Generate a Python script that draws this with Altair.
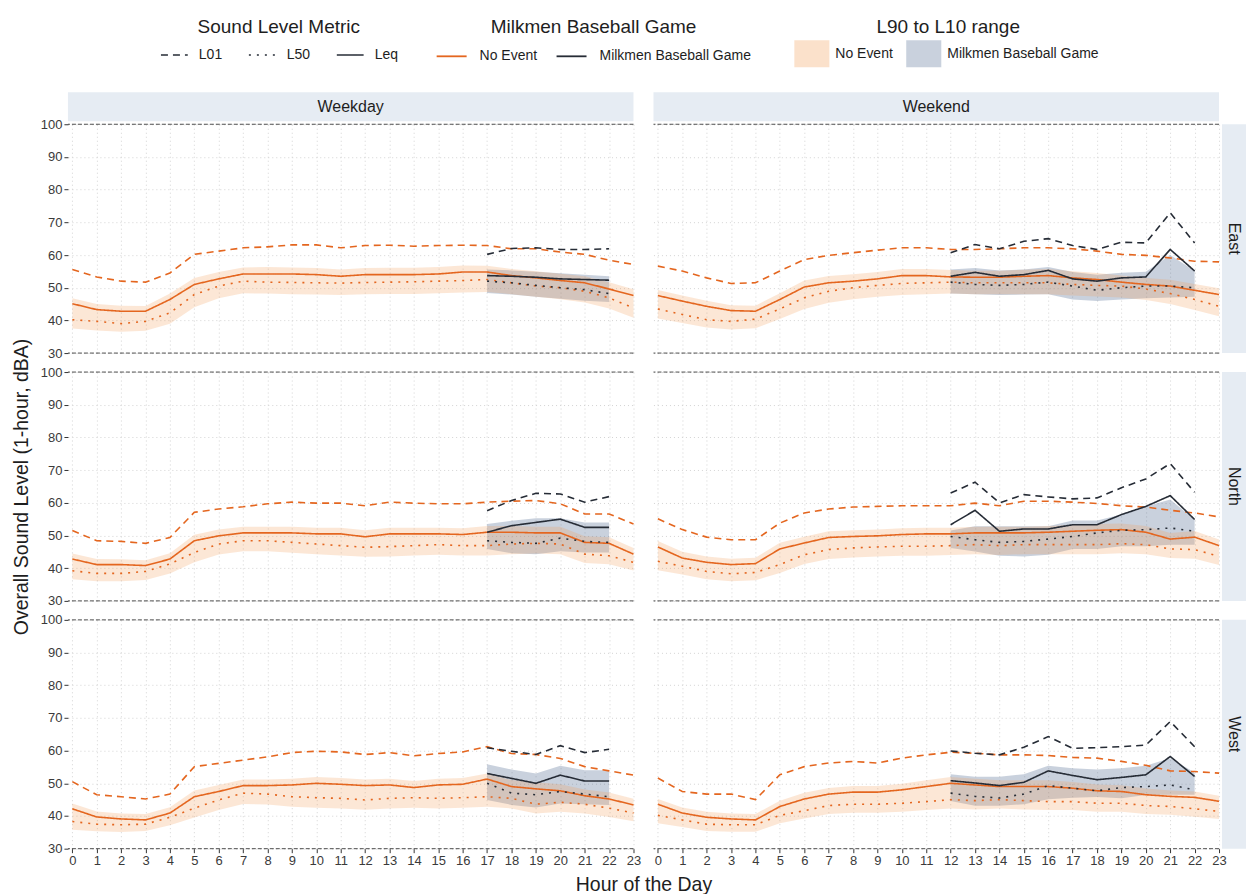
import altair as alt
import pandas as pd

# ---------------------------------------------------------------------------
# Categories and axis values
# ---------------------------------------------------------------------------
HOURS = list(range(24))
LOCATIONS = ["East", "North", "West"]
DAYS = ["Weekday", "Weekend"]
EVENTS = ["No Event", "Milkmen Baseball Game"]
BANDS = ["No Event range", "Milkmen Baseball Game range"]
METRICS = ["L01", "L50", "Leq"]
Y_TICKS = [30, 40, 50, 60, 70, 80, 90, 100]
LIMIT_LEVELS = [30, 100]
GAME_HOURS = {"Weekday": list(range(17, 23)), "Weekend": list(range(12, 23))}

# ---------------------------------------------------------------------------
# Hourly levels without an event (dBA), hours 0-23
# ---------------------------------------------------------------------------
east_weekday_leq = [45.1, 43.3, 42.8, 42.8, 46.4, 51.0, 52.7, 54.2, 54.2, 54.2, 54.0, 53.5,
                    54.0, 54.0, 54.0, 54.2, 54.8, 54.8, 53.7, 53.0, 52.2, 51.5, 49.6, 47.6]
east_weekday_l01 = [55.6, 53.3, 52.0, 51.7, 54.5, 60.2, 61.2, 62.2, 62.5, 63.1, 63.1, 62.2,
                    62.9, 63.0, 62.7, 62.9, 63.0, 62.9, 61.9, 61.9, 60.9, 60.2, 58.4, 57.1]
east_weekday_l50 = [40.2, 39.7, 39.0, 39.7, 42.3, 47.9, 50.5, 52.0, 51.7, 51.6, 51.5, 51.4,
                    51.6, 51.7, 51.8, 52.0, 52.2, 52.5, 51.5, 50.5, 50.0, 48.9, 46.9, 43.8]
east_weekday_l10 = [46.8, 45.0, 44.5, 44.4, 48.2, 53.0, 54.8, 56.2, 56.3, 56.2, 56.0, 55.6,
                    56.0, 56.1, 56.1, 56.3, 56.8, 56.7, 55.7, 55.0, 54.3, 53.5, 51.7, 49.5]
east_weekday_l90 = [37.5, 36.9, 36.5, 36.8, 39.0, 44.0, 46.8, 48.3, 48.2, 48.0, 47.9, 47.8,
                    48.0, 48.1, 48.1, 48.3, 48.5, 48.7, 48.0, 47.2, 46.5, 45.5, 43.6, 40.8]

east_weekend_leq = [47.6, 45.9, 44.3, 43.0, 42.8, 46.4, 50.2, 51.5, 52.0, 52.7, 53.7, 53.7,
                    53.3, 53.2, 53.2, 53.5, 53.7, 53.0, 52.5, 51.7, 51.0, 50.5, 49.2, 47.9]
east_weekend_l01 = [56.6, 55.1, 53.0, 51.3, 51.5, 55.1, 58.6, 59.9, 60.7, 61.5, 62.2, 62.2,
                    61.7, 61.7, 61.9, 62.2, 62.2, 61.9, 61.2, 60.2, 59.9, 59.1, 58.1, 57.9]
east_weekend_l50 = [43.5, 41.8, 40.2, 39.7, 40.4, 43.5, 46.9, 48.9, 50.0, 50.7, 51.3, 51.5,
                    51.7, 51.5, 51.5, 51.5, 51.5, 51.0, 50.7, 50.5, 49.6, 48.2, 46.4, 44.3]
east_weekend_l10 = [49.3, 47.6, 46.0, 44.6, 44.5, 48.3, 52.2, 53.6, 54.1, 54.8, 55.7, 55.7,
                    55.4, 55.2, 55.2, 55.5, 55.7, 55.0, 54.5, 53.7, 53.0, 52.4, 51.1, 49.8]
east_weekend_l90 = [40.6, 39.2, 37.8, 37.2, 37.6, 40.4, 43.5, 45.4, 46.5, 47.2, 47.8, 48.0,
                    48.2, 48.0, 48.0, 48.0, 48.0, 47.6, 47.3, 47.0, 46.2, 45.0, 43.2, 41.3]

north_weekday_leq = [42.8, 41.1, 41.1, 40.8, 42.8, 48.4, 49.9, 50.8, 50.8, 50.8, 50.5, 50.5,
                     49.6, 50.5, 50.5, 50.5, 50.3, 51.0, 51.0, 50.8, 50.8, 47.9, 47.6, 44.3]
north_weekday_l01 = [51.5, 48.4, 48.2, 47.6, 49.4, 57.1, 58.1, 58.8, 59.7, 60.2, 59.9, 59.9,
                     59.1, 60.2, 59.9, 59.7, 59.7, 60.2, 60.5, 60.7, 59.7, 56.6, 56.6, 53.5]
north_weekday_l50 = [39.2, 38.4, 38.4, 39.0, 41.3, 44.8, 47.4, 48.4, 48.4, 47.9, 47.4, 46.9,
                     46.4, 46.6, 46.9, 47.2, 46.9, 46.9, 47.4, 47.6, 47.4, 44.3, 43.8, 41.8]
north_weekday_l10 = [44.5, 42.8, 42.7, 42.4, 44.6, 50.2, 51.8, 52.7, 52.7, 52.7, 52.4, 52.4,
                     51.6, 52.4, 52.4, 52.4, 52.2, 52.9, 52.9, 52.7, 52.7, 49.8, 49.5, 46.2]
north_weekday_l90 = [36.6, 36.0, 36.0, 36.4, 38.4, 41.8, 44.2, 45.2, 45.2, 44.7, 44.3, 43.9,
                     43.5, 43.6, 43.9, 44.1, 43.9, 43.9, 44.3, 44.5, 44.3, 41.6, 41.2, 39.3]

north_weekend_leq = [46.5, 43.1, 41.8, 41.1, 41.4, 45.9, 47.7, 49.4, 49.7, 49.9, 50.3, 50.5,
                     50.5, 50.8, 50.8, 50.8, 51.0, 51.3, 51.6, 51.8, 51.0, 48.9, 49.5, 46.9]
north_weekend_l01 = [55.1, 51.8, 49.5, 48.7, 48.7, 53.8, 56.9, 58.1, 58.7, 58.9, 59.1, 59.1,
                     59.1, 59.9, 59.1, 60.5, 60.5, 60.2, 59.8, 59.1, 58.7, 57.7, 56.9, 55.7]
north_weekend_l50 = [42.1, 40.6, 39.0, 38.3, 38.7, 41.1, 44.1, 45.7, 46.2, 46.5, 46.7, 46.7,
                     46.9, 47.2, 46.9, 47.2, 47.2, 47.2, 47.2, 47.5, 47.2, 45.9, 45.7, 43.6]
north_weekend_l10 = [48.3, 45.0, 43.6, 42.9, 43.2, 47.8, 49.6, 51.3, 51.6, 51.8, 52.2, 52.4,
                     52.4, 52.7, 52.7, 52.7, 52.9, 53.2, 53.5, 53.7, 52.9, 50.8, 51.4, 48.8]
north_weekend_l90 = [39.4, 38.1, 36.6, 36.0, 36.3, 38.5, 41.3, 42.8, 43.3, 43.6, 43.8, 43.8,
                     44.0, 44.3, 44.0, 44.3, 44.3, 44.3, 44.3, 44.6, 44.3, 43.1, 42.9, 41.0]

west_weekday_leq = [42.2, 39.7, 39.1, 38.8, 40.9, 45.9, 47.5, 49.3, 49.3, 49.5, 50.0, 49.7,
                    49.3, 49.5, 48.7, 49.5, 49.7, 51.3, 49.0, 48.3, 47.7, 46.2, 45.2, 43.4]
west_weekday_l01 = [50.5, 46.5, 45.9, 45.2, 46.7, 55.1, 56.1, 57.1, 58.1, 59.4, 59.8, 59.6,
                    58.8, 59.4, 58.4, 59.1, 59.6, 61.2, 59.1, 58.8, 57.6, 55.1, 53.8, 52.5]
west_weekday_l50 = [38.3, 37.5, 37.3, 37.5, 39.6, 42.4, 44.9, 47.0, 46.7, 45.9, 45.6, 45.4,
                    44.9, 45.4, 45.6, 45.4, 45.6, 45.9, 45.4, 43.6, 44.2, 43.6, 42.4, 40.9]
west_weekday_l10 = [43.8, 41.4, 40.8, 40.6, 42.7, 47.8, 49.5, 51.2, 51.2, 51.4, 51.9, 51.6,
                    51.2, 51.4, 50.7, 51.4, 51.6, 53.0, 51.0, 50.3, 49.7, 48.1, 47.2, 45.3]
west_weekday_l90 = [35.8, 35.3, 35.1, 35.4, 37.2, 39.5, 41.8, 43.7, 43.5, 42.8, 42.5, 42.3,
                    41.9, 42.3, 42.5, 42.3, 42.5, 42.8, 42.3, 40.8, 41.3, 40.8, 39.7, 38.4]

west_weekend_leq = [43.6, 40.9, 39.6, 39.1, 38.8, 42.9, 45.2, 46.7, 47.3, 47.3, 48.0, 49.0,
                    50.0, 49.5, 49.0, 49.0, 49.0, 48.5, 47.7, 47.5, 46.5, 46.0, 45.7, 44.5]
west_weekend_l01 = [51.6, 47.5, 46.7, 46.7, 45.0, 52.6, 55.1, 56.2, 56.7, 56.2, 57.7, 58.7,
                    59.5, 59.2, 58.7, 58.7, 58.5, 57.9, 57.7, 56.7, 55.5, 53.8, 53.6, 53.1]
west_weekend_l50 = [40.2, 38.8, 37.5, 37.3, 37.3, 40.2, 41.6, 43.2, 43.6, 43.6, 43.9, 44.4,
                    45.0, 44.7, 45.0, 44.7, 44.4, 44.4, 43.9, 43.9, 43.2, 42.9, 42.2, 41.4]
west_weekend_l10 = [45.2, 42.6, 41.3, 40.8, 40.6, 44.7, 47.1, 48.6, 49.2, 49.2, 49.9, 50.9,
                    51.9, 51.4, 50.9, 50.9, 50.9, 50.4, 49.6, 49.4, 48.4, 47.8, 47.5, 46.2]
west_weekend_l90 = [37.8, 36.6, 35.4, 35.2, 35.2, 37.8, 39.2, 40.6, 41.0, 41.0, 41.3, 41.8,
                    42.3, 42.0, 42.3, 42.0, 41.8, 41.8, 41.3, 41.3, 40.6, 40.4, 39.8, 39.1]

# ---------------------------------------------------------------------------
# Hourly levels during Milkmen games (weekday 17-22, weekend 12-22)
# ---------------------------------------------------------------------------
east_weekday_game_leq = [53.7, 53.5, 53.2, 52.7, 52.5, 52.3]
east_weekday_game_l01 = [60.2, 62.0, 62.2, 61.7, 61.7, 61.9]
east_weekday_game_l50 = [52.0, 51.5, 50.7, 50.0, 49.4, 48.2]
east_weekday_game_l10 = [55.6, 55.3, 54.9, 54.4, 54.0, 53.5]
east_weekday_game_l90 = [48.4, 47.9, 47.2, 46.6, 46.0, 45.6]

east_weekend_game_leq = [53.5, 54.7, 53.5, 54.0, 55.3, 52.7, 52.0, 53.0, 53.3, 61.7, 55.1]
east_weekend_game_l01 = [60.7, 63.2, 61.9, 64.2, 65.0, 62.9, 61.7, 63.9, 63.7, 72.9, 63.7]
east_weekend_game_l50 = [51.7, 51.0, 50.7, 51.0, 51.7, 50.5, 49.2, 50.0, 50.5, 50.5, 50.0]
east_weekend_game_l10 = [55.6, 56.0, 55.3, 55.6, 56.3, 54.8, 54.0, 54.6, 54.9, 60.0, 55.1]
east_weekend_game_l90 = [48.2, 48.0, 47.8, 47.9, 48.0, 46.4, 45.9, 46.4, 46.8, 47.0, 47.2]

north_weekday_game_leq = [51.0, 53.0, 54.0, 55.0, 52.5, 52.5]
north_weekday_game_l01 = [57.6, 60.7, 62.9, 62.7, 60.2, 61.9]
north_weekday_game_l50 = [48.4, 47.9, 47.6, 49.2, 48.2, 47.9]
north_weekday_game_l10 = [53.5, 54.5, 55.3, 55.3, 54.0, 54.0]
north_weekday_game_l90 = [45.9, 44.6, 44.3, 45.2, 44.8, 44.8]

north_weekend_game_leq = [53.3, 57.7, 51.3, 52.0, 52.0, 53.3, 53.3, 56.4, 58.9, 62.2, 54.9]
north_weekend_game_l01 = [63.0, 66.3, 60.0, 62.5, 61.8, 61.2, 61.5, 64.6, 67.3, 72.0, 63.2]
north_weekend_game_l50 = [49.7, 48.7, 47.9, 48.2, 48.9, 49.7, 50.8, 51.6, 51.8, 52.3, 51.3]
north_weekend_game_l10 = [51.5, 52.8, 52.8, 52.8, 52.8, 54.6, 54.6, 56.4, 58.9, 61.0, 54.9]
north_weekend_game_l90 = [46.2, 45.1, 43.8, 43.6, 44.1, 45.9, 45.9, 46.7, 46.7, 47.2, 47.2]

west_weekday_game_leq = [53.0, 51.5, 50.0, 52.5, 50.7, 50.7]
west_weekday_game_l01 = [60.9, 59.8, 58.8, 61.5, 59.4, 60.4]
west_weekday_game_l50 = [50.0, 47.0, 46.5, 47.5, 46.7, 45.9]
west_weekday_game_l10 = [55.8, 54.2, 53.0, 55.4, 54.0, 54.0]
west_weekday_game_l90 = [44.9, 43.4, 42.6, 43.8, 43.6, 43.4]

west_weekend_game_leq = [50.8, 50.1, 49.3, 50.3, 53.8, 52.4, 51.1, 51.8, 52.6, 58.2, 52.1]
west_weekend_game_l01 = [59.9, 59.2, 58.7, 61.0, 64.3, 60.7, 60.9, 61.2, 61.7, 68.9, 61.2]
west_weekend_game_l50 = [47.0, 46.0, 45.5, 46.7, 49.3, 48.5, 47.7, 48.7, 49.0, 49.5, 48.0]
west_weekend_game_l10 = [52.8, 52.0, 52.0, 52.8, 55.4, 54.6, 54.2, 54.6, 55.4, 57.7, 53.3]
west_weekend_game_l90 = [44.6, 43.1, 43.1, 43.6, 45.1, 45.6, 45.8, 45.4, 46.4, 46.5, 46.5]

# ---------------------------------------------------------------------------
# Assemble long tables
# ---------------------------------------------------------------------------
series = {
    ("East", "Weekday"): {
        "No Event": (east_weekday_l01, east_weekday_l50, east_weekday_leq, east_weekday_l10, east_weekday_l90),
        "Milkmen Baseball Game": (east_weekday_game_l01, east_weekday_game_l50, east_weekday_game_leq,
                                  east_weekday_game_l10, east_weekday_game_l90),
    },
    ("East", "Weekend"): {
        "No Event": (east_weekend_l01, east_weekend_l50, east_weekend_leq, east_weekend_l10, east_weekend_l90),
        "Milkmen Baseball Game": (east_weekend_game_l01, east_weekend_game_l50, east_weekend_game_leq,
                                  east_weekend_game_l10, east_weekend_game_l90),
    },
    ("North", "Weekday"): {
        "No Event": (north_weekday_l01, north_weekday_l50, north_weekday_leq, north_weekday_l10, north_weekday_l90),
        "Milkmen Baseball Game": (north_weekday_game_l01, north_weekday_game_l50, north_weekday_game_leq,
                                  north_weekday_game_l10, north_weekday_game_l90),
    },
    ("North", "Weekend"): {
        "No Event": (north_weekend_l01, north_weekend_l50, north_weekend_leq, north_weekend_l10, north_weekend_l90),
        "Milkmen Baseball Game": (north_weekend_game_l01, north_weekend_game_l50, north_weekend_game_leq,
                                  north_weekend_game_l10, north_weekend_game_l90),
    },
    ("West", "Weekday"): {
        "No Event": (west_weekday_l01, west_weekday_l50, west_weekday_leq, west_weekday_l10, west_weekday_l90),
        "Milkmen Baseball Game": (west_weekday_game_l01, west_weekday_game_l50, west_weekday_game_leq,
                                  west_weekday_game_l10, west_weekday_game_l90),
    },
    ("West", "Weekend"): {
        "No Event": (west_weekend_l01, west_weekend_l50, west_weekend_leq, west_weekend_l10, west_weekend_l90),
        "Milkmen Baseball Game": (west_weekend_game_l01, west_weekend_game_l50, west_weekend_game_leq,
                                  west_weekend_game_l10, west_weekend_game_l90),
    },
}

line_rows, band_rows = [], []
for (loc, day), by_event in series.items():
    for event, (l01, l50, leq, l10, l90) in by_event.items():
        hours = HOURS if event == "No Event" else GAME_HOURS[day]
        band = BANDS[EVENTS.index(event)]
        for metric, values in zip(METRICS, (l01, l50, leq)):
            for h, v in zip(hours, values):
                line_rows.append({"loc": loc, "day": day, "event": event,
                                  "metric": metric, "hour": h, "level": v})
        for h, lo, hi in zip(hours, l90, l10):
            band_rows.append({"loc": loc, "day": day, "band": band,
                              "hour": h, "lo": lo, "hi": hi})

lines_df = pd.DataFrame(line_rows)
bands_df = pd.DataFrame(band_rows)
limits_df = pd.DataFrame({"level": LIMIT_LEVELS})

# ---------------------------------------------------------------------------
# Styling
# ---------------------------------------------------------------------------
FONT = "Liberation Sans"
ORANGE = "#e4661f"
DARK = "#262c36"
BAND_ORANGE = "#f39a52"
BAND_GREY = "#4d6790"
STRIP_FILL = "#e6ecf3"
GRID = "#cfcfcf"
TEXT = "#1e1e1e"
W, H = 566, 229
ORANGE_BAND_OPACITY = 0.24
GREY_BAND_OPACITY = 0.3
# wide swatch for the range legend
SWATCH = "M-1.3,-1H1.3V1H-1.3Z"

X_SCALE = alt.Scale(domain=[-0.18, 23.0], nice=False, zero=False)
Y_SCALE = alt.Scale(domain=[30, 100], nice=False, zero=False)

dash_legend = alt.Legend(
    title="Sound Level Metric", orient="none", legendX=92, legendY=-106,
    direction="horizontal", titleAnchor="middle", symbolType="stroke",
    symbolSize=720, symbolStrokeWidth=1.6, symbolStrokeColor=DARK,
    columnPadding=22, labelOffset=10, titlePadding=3,
)
stroke_legend = alt.Legend(
    title="Milkmen Baseball Game", orient="none", legendX=368, legendY=-106,
    direction="horizontal", titleAnchor="middle", symbolType="stroke",
    symbolSize=900, symbolStrokeWidth=1.8, columnPadding=15, labelOffset=12,
    titlePadding=3, titleLimit=400, labelLimit=400,
)
fill_legend = alt.Legend(
    title="L90 to L10 range", orient="none", legendX=731, legendY=-106,
    direction="horizontal", titleAnchor="middle", symbolType=SWATCH,
    symbolSize=729, symbolOpacity=0.3, symbolStrokeWidth=0,
    columnPadding=12, labelOffset=10, titlePadding=3, labelLimit=400,
    labelExpr="replace(datum.label, ' range', '')",
)


def panel(loc, day):
    left = day == "Weekday"
    top = loc == "East"
    bottom = loc == "West"

    x_kw = dict(values=HOURS, labels=bottom, ticks=bottom, labelFlush=False,
                labelOverlap=False, labelAngle=0)
    if bottom and left:
        x_kw.update(title="Hour of the Day", titleX=W + 10, titleY=36,
                    titleAlign="center", titleBaseline="middle")
    else:
        x_kw.update(title=None)
    y_kw = dict(values=Y_TICKS, labels=left, ticks=left, labelFlush=False,
                labelOverlap=False)
    if left and loc == "North":
        y_kw.update(title="Overall Sound Level (1-hour, dBA)", titlePadding=9)
    else:
        y_kw.update(title=None)

    x_enc = alt.X("hour:Q", scale=X_SCALE, axis=alt.Axis(**x_kw))

    def y_enc(field):
        return alt.Y(f"{field}:Q", scale=Y_SCALE, axis=alt.Axis(**y_kw))

    cell_lines = lines_df[(lines_df["loc"] == loc) & (lines_df["day"] == day)]
    cell_bands = bands_df[(bands_df["loc"] == loc) & (bands_df["day"] == day)]

    fill_enc = alt.Fill("band:N", scale=alt.Scale(domain=BANDS, range=[BAND_ORANGE, BAND_GREY]),
                        legend=fill_legend)

    limits = alt.Chart(limits_df).mark_rule(
        color="#3c3c3c", strokeDash=[4, 2], strokeWidth=0.9
    ).encode(y=y_enc("level"))

    game_band = alt.Chart(cell_bands[cell_bands["band"] == BANDS[1]]).mark_area(
        opacity=GREY_BAND_OPACITY
    ).encode(x=x_enc, y=y_enc("lo"), y2="hi:Q", fill=fill_enc)

    base_band = alt.Chart(cell_bands[cell_bands["band"] == BANDS[0]]).mark_area(
        opacity=ORANGE_BAND_OPACITY
    ).encode(x=x_enc, y=y_enc("lo"), y2="hi:Q", fill=fill_enc)

    lines = alt.Chart(cell_lines).mark_line(strokeWidth=1.6, color=DARK).encode(
        x=x_enc,
        y=y_enc("level"),
        stroke=alt.Stroke("event:N", scale=alt.Scale(domain=EVENTS, range=[ORANGE, DARK]),
                          legend=stroke_legend),
        strokeDash=alt.StrokeDash("metric:N",
                                  scale=alt.Scale(domain=METRICS, range=[[7, 5], [2, 6], [1, 0]]),
                                  legend=dash_legend),
    )

    layers = [limits, game_band, base_band, lines]

    if top:
        strip = pd.DataFrame({"label": [day]})
        layers.append(alt.Chart(strip).mark_rect(fill=STRIP_FILL).encode(
            x=alt.value(0), x2=alt.value(W), y=alt.value(-32), y2=alt.value(-3)))
        layers.append(alt.Chart(strip).mark_text(
            font=FONT, fontSize=16, color=TEXT, baseline="middle", align="center"
        ).encode(x=alt.value(W / 2), y=alt.value(-17.5), text="label:N"))
    if not left:
        strip = pd.DataFrame({"label": [loc]})
        layers.append(alt.Chart(strip).mark_rect(fill=STRIP_FILL).encode(
            x=alt.value(W + 3), x2=alt.value(W + 27), y=alt.value(0), y2=alt.value(H)))
        layers.append(alt.Chart(strip).mark_text(
            font=FONT, fontSize=16, color=TEXT, baseline="middle", align="center", angle=90
        ).encode(x=alt.value(W + 15), y=alt.value(H / 2), text="label:N"))

    return alt.layer(*layers).properties(width=W, height=H)


panels = [panel(loc, day) for loc in LOCATIONS for day in DAYS]

chart = alt.concat(
    *panels, columns=2, spacing={"row": 19, "column": 20}, bounds="flush"
).resolve_scale(
    stroke="shared", strokeDash="shared", fill="shared"
).properties(
    padding={"left": 11, "top": 18, "right": 0, "bottom": 2}
).configure(
    font=FONT
).configure_view(
    stroke=None
).configure_axis(
    domain=False, grid=True, gridColor=GRID, gridDash=[1, 3], gridWidth=0.9,
    tickColor="#333333", tickSize=4, tickWidth=1, labelColor="#3a3a3a",
    labelFontSize=13, labelPadding=2, labelFont=FONT,
    titleFont=FONT, titleFontSize=19.5, titleFontWeight="normal", titleColor=TEXT,
).configure_legend(
    titleFont=FONT, titleFontSize=19, titleFontWeight="normal", titleColor=TEXT,
    labelFont=FONT, labelFontSize=14, labelColor=TEXT,
)

chart.save("out.html", embed_options={"renderer": "svg", "actions": False})
